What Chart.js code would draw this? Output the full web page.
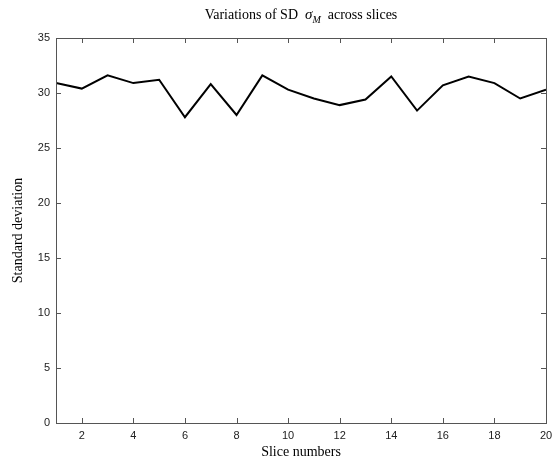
<!DOCTYPE html>
<html>
<head>
<meta charset="utf-8">
<script src="https://cdn.jsdelivr.net/npm/chart.js@4"></script>
<style>
  html, body { margin: 0; padding: 0; background: #fff; }
  #wrap { width: 553px; height: 464px; }
</style>
</head>
<body>
<div id="wrap"><canvas id="sdChart" width="553" height="464"></canvas></div>
<script>
var slices = [1, 2, 3, 4, 5, 6, 7, 8, 9, 10, 11, 12, 13, 14, 15, 16, 17, 18, 19, 20];
var sdValues = [30.9, 30.4, 31.6, 30.9, 31.2, 27.8, 30.8, 28.0, 31.6, 30.3,
                29.5, 28.9, 29.4, 31.5, 28.4, 30.7, 31.5, 30.9, 29.5, 30.3];
var xTicks = [2, 4, 6, 8, 10, 12, 14, 16, 18, 20];
var yTicks = [0, 5, 10, 15, 20, 25, 30, 35];

// box round the plot with inward ticks on all four sides
var boxTicks = {
  id: 'boxTicks',
  afterDraw: function(chart) {
    var ctx = chart.ctx, a = chart.chartArea;
    var xs = chart.scales.x, ys = chart.scales.y;
    var len = 5;
    ctx.save();
    ctx.strokeStyle = '#555';
    ctx.lineWidth = 1;
    ctx.beginPath();
    xTicks.forEach(function(v) {
      var px = Math.round(xs.getPixelForValue(v)) + 0.5;
      ctx.moveTo(px, a.bottom); ctx.lineTo(px, a.bottom - len);
      ctx.moveTo(px, a.top); ctx.lineTo(px, a.top + len);
    });
    yTicks.forEach(function(v) {
      var py = Math.round(ys.getPixelForValue(v)) + 0.5;
      ctx.moveTo(a.left, py); ctx.lineTo(a.left + len, py);
      ctx.moveTo(a.right, py); ctx.lineTo(a.right - len, py);
    });
    ctx.stroke();
    ctx.strokeRect(Math.round(a.left) + 0.5, Math.round(a.top) + 0.5,
                   Math.round(a.right - a.left), Math.round(a.bottom - a.top));
    ctx.restore();
  }
};

// title with an italic sigma and subscript M
var mathTitle = {
  id: 'mathTitle',
  afterDraw: function(chart) {
    var ctx = chart.ctx, a = chart.chartArea;
    var parts = [
      { t: 'Variations of SD  ', f: '14px "Liberation Serif"', dy: 0 },
      { t: '\u03C3', f: 'italic 15px "Liberation Serif"', dy: 0 },
      { t: 'M', f: 'italic 10px "Liberation Serif"', dy: 4 },
      { t: '  across slices', f: '14px "Liberation Serif"', dy: 0 }
    ];
    ctx.save();
    ctx.fillStyle = '#000';
    ctx.textBaseline = 'alphabetic';
    var total = 0;
    parts.forEach(function(p) { ctx.font = p.f; total += ctx.measureText(p.t).width; });
    var x = (a.left + a.right) / 2 - total / 2;
    var y = 19;
    parts.forEach(function(p) {
      ctx.font = p.f;
      ctx.fillText(p.t, x, y + p.dy);
      x += ctx.measureText(p.t).width;
    });
    ctx.restore();
  }
};

new Chart(document.getElementById('sdChart'), {
  type: 'line',
  data: {
    datasets: [{
      data: slices.map(function(s, i) { return { x: s, y: sdValues[i] }; }),
      borderColor: '#000',
      borderWidth: 2,
      pointRadius: 0,
      tension: 0,
      fill: false
    }]
  },
  options: {
    responsive: false,
    animation: false,
    layout: { padding: { top: 38, right: 7, left: 0, bottom: 0 } },
    plugins: { legend: { display: false }, tooltip: { enabled: false } },
    scales: {
      x: {
        type: 'linear',
        min: 1,
        max: 20,
        afterBuildTicks: function(scale) {
          scale.ticks = xTicks.map(function(v) { return { value: v }; });
        },
        afterFit: function(scale) {
          scale.height = 41;
          scale.paddingLeft = 0;
          scale.paddingRight = 0;
        },
        grid: { display: false, drawTicks: false },
        border: { display: false },
        ticks: {
          color: '#222',
          font: { family: 'Arial, "Liberation Sans"', size: 11 },
          padding: 6,
          maxRotation: 0,
          autoSkip: false
        },
        title: {
          display: true,
          text: 'Slice numbers',
          color: '#000',
          font: { family: '"Liberation Serif"', size: 14 },
          padding: { top: 0, bottom: 3 }
        }
      },
      y: {
        min: 0,
        max: 35,
        afterBuildTicks: function(scale) {
          scale.ticks = yTicks.map(function(v) { return { value: v }; });
        },
        afterFit: function(scale) {
          scale.width = 56;
          scale.paddingTop = 0;
          scale.paddingBottom = 0;
        },
        grid: { display: false, drawTicks: false },
        border: { display: false },
        ticks: {
          color: '#222',
          font: { family: 'Arial, "Liberation Sans"', size: 11 },
          padding: 6
        },
        title: {
          display: true,
          text: 'Standard deviation',
          color: '#000',
          font: { family: '"Liberation Serif"', size: 14 },
          padding: { top: 10, bottom: 0 }
        }
      }
    }
  },
  plugins: [boxTicks, mathTitle]
});
</script>
</body>
</html>
